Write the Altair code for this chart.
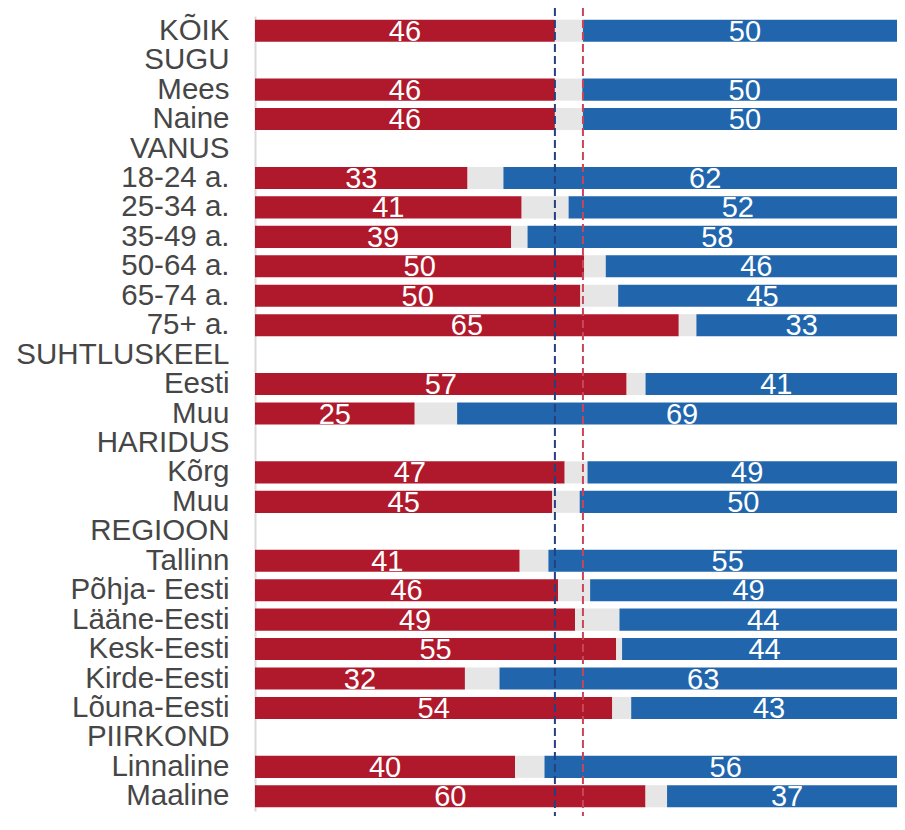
import json
import altair as alt
import pandas as pd

categories = ["KÕIK", "SUGU", "Mees", "Naine", "VANUS", "18-24 a.", "25-34 a.",
              "35-49 a.", "50-64 a.", "65-74 a.", "75+ a.", "SUHTLUSKEEL", "Eesti",
              "Muu", "HARIDUS", "Kõrg", "Muu", "REGIOON", "Tallinn", "Põhja- Eesti",
              "Lääne-Eesti", "Kesk-Eesti", "Kirde-Eesti", "Lõuna-Eesti", "PIIRKOND",
              "Linnaline", "Maaline"]
red = [46.0, None, 46.0, 46.0, None, 32.6, 40.9, 39.3, 50.5, 49.9, 65.0, None, 57.0,
       24.5, None, 47.5, 45.6, None, 40.6, 46.5, 49.1, 55.4, 32.2, 54.8, None, 39.9, 59.9]
blue = [49.7, None, 49.8, 49.7, None, 61.9, 51.9, 58.2, 46.2, 44.3, 32.3, None, 40.1,
        69.0, None, 49.0, 50.2, None, 55.0, 48.6, 44.1, 43.7, 62.5, 42.3, None, 55.6, 36.8]
red_labels = [46, None, 46, 46, None, 33, 41, 39, 50, 50, 65, None, 57, 25, None, 47,
              45, None, 41, 46, 49, 55, 32, 54, None, 40, 60]
blue_labels = [50, None, 50, 50, None, 62, 52, 58, 46, 45, 33, None, 41, 69, None, 49,
               50, None, 55, 49, 44, 44, 63, 43, None, 56, 37]

RED = "#B0192C"
BLUE = "#2166AC"
GREY = "#E6E6E6"

keys = [f"{i:02d}" for i in range(len(categories))]

bar_rows = []
text_rows = []
for k, r, b, rl, bl in zip(keys, red, blue, red_labels, blue_labels):
    if r is None:
        continue
    bstart = 100 - b
    bar_rows.append({"key": k, "seg": "red", "start": 0, "end": r})
    bar_rows.append({"key": k, "seg": "grey", "start": r, "end": bstart})
    bar_rows.append({"key": k, "seg": "blue", "start": bstart, "end": 100})
    text_rows.append({"key": k, "mid": r / 2, "label": str(rl)})
    text_rows.append({"key": k, "mid": (bstart + 100) / 2, "label": str(bl)})

bars_df = pd.DataFrame(bar_rows)
text_df = pd.DataFrame(text_rows)
rules_df = pd.DataFrame({"x": [red[0], 100 - blue[0]],
                         "c": ["#24407F", "#C8465A"]})

W, H = 642, 795
XMAX = 98.47  # the bars run a little past the right edge of the picture
label_expr = json.dumps(categories, ensure_ascii=False) + "[toNumber(datum.value)]"

xscale = alt.Scale(domain=[0, XMAX], nice=False, zero=True)
yenc = alt.Y("key:N",
             scale=alt.Scale(domain=keys, paddingInner=0.25, paddingOuter=0.125),
             axis=alt.Axis(title=None, labelExpr=label_expr, ticks=False,
                           labelPadding=26, labelFontSize=29.5,
                           labelFont="Liberation Sans", labelColor="#464646",
                           labelLimit=400, domainColor="#D9D9D9", domainWidth=2,
                           grid=False))

bars = alt.Chart(bars_df).mark_bar(clip=True).encode(
    x=alt.X("start:Q", scale=xscale, axis=None),
    x2="end:Q",
    y=yenc,
    color=alt.Color("seg:N",
                    scale=alt.Scale(domain=["red", "grey", "blue"],
                                    range=[RED, GREY, BLUE]),
                    legend=None),
)

texts = alt.Chart(text_df).mark_text(
    color="white", fontSize=29, font="Liberation Sans", baseline="middle", dy=1
).encode(
    x=alt.X("mid:Q", scale=xscale, axis=None),
    y=alt.Y("key:N"),
    text="label:N",
)

rules = alt.Chart(rules_df).mark_rule(strokeDash=[8, 4], strokeWidth=2).encode(
    x=alt.X("x:Q", scale=xscale, axis=None),
    y=alt.value(-8),
    y2=alt.value(H + 5),
    color=alt.Color("c:N", scale=None),
)

chart = alt.layer(bars, rules, texts).properties(
    width=W, height=H,
    autosize=alt.AutoSizeParams(type="none"),
    padding={"left": 247, "top": 8, "right": 0, "bottom": 5},
).configure_view(stroke=None)

chart.save("out.html", embed_options={"renderer": "svg", "actions": False})
